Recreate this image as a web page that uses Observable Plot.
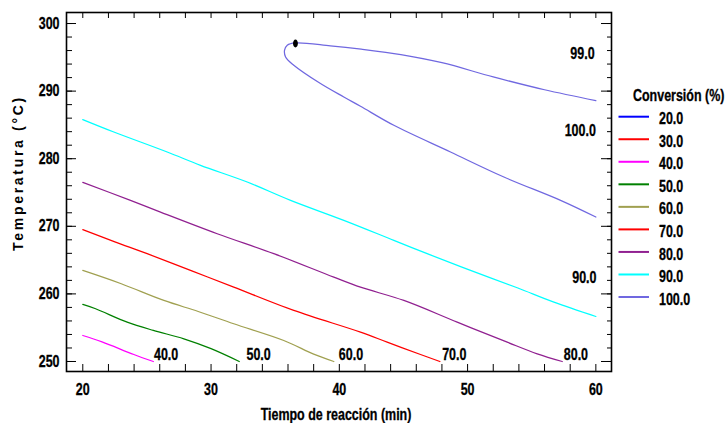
<!DOCTYPE html>
<html><head><meta charset="utf-8">
<script src="https://cdn.jsdelivr.net/npm/d3@7"></script>
<script src="https://cdn.jsdelivr.net/npm/@observablehq/plot@0.6"></script>
<style>
body{margin:0;background:#fff;}
#wrap{position:relative;width:727px;height:423px;overflow:hidden;}
#wrap svg.ov{position:absolute;left:0;top:0;pointer-events:none;}
</style></head><body><div id="wrap"></div>
<script>
const FONT = '"Liberation Sans",Arial,sans-serif';
const NARROW_SCALE = 0.78;

const xTitle = "Tiempo de reacción (min)";
const yTitle = "Temperatura (°C)";
const legendTitle = "Conversión (%)";
const legendLevels = ["20.0","30.0","40.0","50.0","60.0","70.0","80.0","90.0","100.0"];
const legendColors = ["#0000ff","#ff0000","#ff00ff","#008000","#a0a050","#ff0000","#902090","#00ffff","#7068e0"];

const xMajor = [20,30,40,50,60];
const xMinor = [20,22,24,26,28,30,32,34,36,38,40,42,44,46,48,50,52,54,56,58,60];
const yMajor = [250,260,270,280,290,300];
const yMinor = [250,252,254,256,258,260,262,264,266,268,270,272,274,276,278,280,282,284,286,288,290,292,294,296,298,300];

// contour lines: [tiempo, temperatura]
const c40 = [[20,253.85],[21.5,252.9],[23.98,251.04],[25.5,250.0]];
const c50 = [[20,258.44],[21,257.8],[23.46,255.82],[25.5,254.6],[27.88,253.36],[30,251.9],[32.2,250.0]];
const c60 = [[20,263.47],[23,261.5],[26.32,259.03],[29,257.4],[31.77,255.58],[35.67,253.11],[38,251.1],[39.57,250.0]];
const c70 = [[20,269.5],[22.5,267.7],[25.02,265.95],[28.5,263.4],[31.77,261.0],[36.45,257.55],[41.65,254.34],[43.73,252.86],[46.33,251.04],[47.84,250.0]];
const c80 = [[20,276.5],[23.72,273.84],[26.06,272.1],[30.48,268.9],[34.89,265.95],[39.57,262.48],[41.65,261.0],[45.03,259.03],[49.19,255.82],[53.09,252.86],[55.43,251.14],[57.38,250.0]];
const c90 = [[20,285.79],[22.42,283.95],[26.58,280.99],[29.18,279.02],[32.82,276.55],[36.2,273.84],[40.35,270.88],[44.25,267.92],[46.85,265.95],[50.23,263.48],[53.87,260.91],[56.73,258.78],[60,256.66]];
const c100 = [[60,288.6],[56,290.2],[52,292.1],[48,294.2],[44.8,295.4],[41.7,296.2],[39.3,296.7],[36.58,297.13],[35.94,296.79],[35.73,296.05],[35.81,295.05],[36.45,293.83],[38.53,291.12],[40.35,289.13],[41.65,287.76],[44.25,284.94],[48.67,280.99],[52.83,277.29],[57.25,273.84],[60,271.37]];
const contourSeries = [
  {level: "40.0", points: c40, color: "#ff00ff"},
  {level: "50.0", points: c50, color: "#008000"},
  {level: "60.0", points: c60, color: "#a0a050"},
  {level: "70.0", points: c70, color: "#ff0000"},
  {level: "80.0", points: c80, color: "#902090"},
  {level: "90.0", points: c90, color: "#00ffff"},
  {level: "100.0", points: c100, color: "#7068e0"}
];

// contour labels
const labelText = ["40.0","50.0","60.0","70.0","80.0"];
const labelX = [25.55,32.76,39.96,48.02,57.5];
const labelY = [251.0,251.0,251.0,251.0,251.0];
const labelRText = ["99.0","100.0","90.0"];
const labelRX = [59.9,60.0,60.05];
const labelRY = [295.55,284.05,262.4];

const optimum = [[36.58,297.04]];

const ellipse = {draw(ctx, size) {
  const r = Math.sqrt(size / Math.PI), rx = r * 0.72, ry = r * 1.15, k = 0.5523;
  ctx.moveTo(0, -ry);
  ctx.bezierCurveTo(k*rx, -ry, rx, -k*ry, rx, 0);
  ctx.bezierCurveTo(rx, k*ry, k*rx, ry, 0, ry);
  ctx.bezierCurveTo(-k*rx, ry, -rx, k*ry, -rx, 0);
  ctx.bezierCurveTo(-rx, -k*ry, -k*rx, -ry, 0, -ry);
  ctx.closePath();
}};

const lineMarks = contourSeries.map(s => Plot.line(s.points, {x: d => d[0], y: d => d[1], stroke: s.color, strokeWidth: 1.25, curve: "catmull-rom"}));

const chart = Plot.plot({
  width: 727, height: 423,
  marginLeft: 66, marginRight: 116, marginTop: 12, marginBottom: 52,
  x: {domain: [18.73, 61.22]},
  y: {domain: [248.52, 301.63]},
  style: {fontFamily: FONT, fontSize: "16px", fontWeight: "bold", color: "black", background: "white", overflow: "visible"},
  marks: [
    ...lineMarks,
    Plot.dot(optimum, {x: d => d[0], y: d => d[1], r: 3.4, fill: "black", stroke: "none", symbol: ellipse}),
    Plot.text(labelText, {x: (d,i) => labelX[i], y: (d,i) => labelY[i], text: d => d, textAnchor: "start", lineAnchor: "middle", fill: "black"}),
    Plot.text(labelRText, {x: (d,i) => labelRX[i], y: (d,i) => labelRY[i], text: d => d, textAnchor: "end", lineAnchor: "middle", fill: "black"}),
    Plot.axisY(yMinor, {anchor: "left", tickSize: -6, fill: "none", label: null}),
    Plot.axisY(yMajor, {anchor: "left", tickSize: -10, fill: "none", label: null}),
    Plot.axisY(yMajor, {anchor: "left", tickSize: 0, tickPadding: 7, label: null, stroke: "none"}),
    Plot.axisY(yMinor, {anchor: "right", tickSize: -5, fill: "none", label: null}),
    Plot.axisY(yMajor, {anchor: "right", tickSize: -11, fill: "none", label: null}),
    Plot.axisX(xMinor, {anchor: "bottom", tickSize: -7, fill: "none", label: null}),
    Plot.axisX(xMajor, {anchor: "bottom", tickSize: 0, tickPadding: 12, label: null, stroke: "none"}),
    Plot.axisX(xMinor, {anchor: "top", tickSize: -5, fill: "none", label: null}),
    Plot.frame({stroke: "black", strokeWidth: 1.6}),
    Plot.text([xTitle], {frameAnchor: "bottom", dy: 43, dx: -3, text: d => d, textAnchor: "middle", lineAnchor: "middle", fill: "black"}),
    Plot.text([yTitle], {frameAnchor: "left", dx: -48, dy: -19, rotate: -90, text: d => d, textAnchor: "middle", lineAnchor: "middle", fill: "black", fontSize: 14})
  ]
});

const wrap = document.getElementById("wrap");
wrap.appendChild(chart);

// narrow (condensed) look: wrap each text in a group scaled horizontally about its anchor point
function condense(root) {
  const texts = Array.from(root.querySelectorAll("text"));
  for (const el of texts) {
    if (el.textContent === yTitle) { el.style.letterSpacing = "2.7px"; continue; }
    const cons = el.transform.baseVal.numberOfItems ? el.transform.baseVal.consolidate() : null;
    const m = cons ? cons.matrix : null;
    const ax = el.x.baseVal.numberOfItems ? el.x.baseVal.getItem(0).value : 0;
    const ay = el.y.baseVal.numberOfItems ? el.y.baseVal.getItem(0).value : 0;
    const px = m ? m.a * ax + m.c * ay + m.e : ax;
    const py = m ? m.b * ax + m.d * ay + m.f : ay;
    const g = document.createElementNS("http://www.w3.org/2000/svg", "g");
    g.setAttribute("transform", `translate(${px},${py}) scale(${NARROW_SCALE},1) translate(${-px},${-py})`);
    el.parentNode.insertBefore(g, el);
    g.appendChild(el);
    el.style.stroke = "black";
    el.style.strokeWidth = "0.3px";
  }
}
condense(chart);

// legend overlay
const ov = d3.select(wrap).append("svg").attr("class", "ov").attr("width", 727).attr("height", 423)
  .style("font-family", FONT).style("font-weight", "bold").style("font-size", "16px");
ov.append("text").attr("x", 633).attr("y", 95).attr("dy", "0.35em").text(legendTitle);
const rows = ov.selectAll("g.row").data(legendLevels).join("g").attr("class", "row")
  .attr("transform", (d, i) => `translate(0,${116.7 + i * 22.54})`);
rows.append("line").attr("x1", 618.5).attr("x2", 649).attr("y1", 0).attr("y2", 0)
  .attr("stroke", (d, i) => legendColors[i]).attr("stroke-width", 2);
rows.append("text").attr("x", 659).attr("y", 2).attr("dy", "0.35em").text(d => d);
condense(ov.node());
</script></body></html>
